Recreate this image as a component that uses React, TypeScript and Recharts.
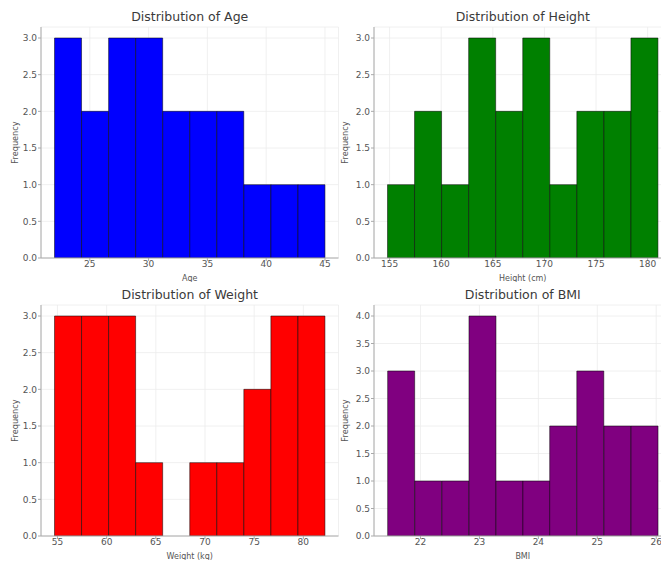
import React from 'react';
import { BarChart, Bar, XAxis, YAxis, CartesianGrid } from 'recharts';

// bin edges and counts
const ageEdges = [22, 24.3, 26.6, 28.9, 31.2, 33.5, 35.8, 38.1, 40.4, 42.7, 45];
const ageCounts = [3, 2, 3, 3, 2, 2, 2, 1, 1, 1];
const ageTicks = [25, 30, 35, 40, 45];

const heightEdges = [154.8, 157.42, 160.04, 162.66, 165.28, 167.9, 170.52, 173.14, 175.76, 178.38, 181];
const heightCounts = [1, 2, 1, 3, 2, 3, 1, 2, 2, 3];
const heightTicks = [155, 160, 165, 170, 175, 180];

const weightEdges = [54.7, 57.45, 60.2, 62.95, 65.7, 68.45, 71.2, 73.95, 76.7, 79.45, 82.2];
const weightCounts = [3, 3, 3, 1, 0, 1, 1, 2, 3, 3];
const weightTicks = [55, 60, 65, 70, 75, 80];

const bmiEdges = [21.44, 21.9, 22.36, 22.82, 23.28, 23.74, 24.19, 24.65, 25.11, 25.57, 26.03];
const bmiCounts = [3, 1, 1, 4, 1, 1, 2, 3, 2, 2];
const bmiTicks = [22, 23, 24, 25, 26];

const freqTicks3 = [0, 0.5, 1, 1.5, 2, 2.5, 3];
const freqTicks4 = [0, 0.5, 1, 1.5, 2, 2.5, 3, 3.5, 4];

const FONT = '"DejaVu Sans", sans-serif';
const PLOT_W = 297.5;
const Y_W = 41;

interface HistProps {
    title: string;
    xLabel: string;
    edges: number[];
    counts: number[];
    xTicks: number[];
    yTicks: number[];
    color: string;
    left: number;
    top: number;
    padLeft: number;
}

const YLabel = ({ viewBox }: any) => {
    const cy = viewBox.y + viewBox.height / 2;
    return (
        <text
            x={15}
            y={cy}
            transform={`rotate(-90, 15, ${cy})`}
            textAnchor="middle"
            dominantBaseline="central"
            fontSize={8.2}
            fill="#555"
            fontFamily={FONT}
        >
            Frequency
        </text>
    );
};

const makeXLabel = (text: string) => ({ viewBox }: any) => (
    <text
        x={viewBox.x + viewBox.width / 2}
        y={viewBox.y + 23}
        textAnchor="middle"
        fontSize={8}
        fill="#555"
        fontFamily={FONT}
    >
        {text}
    </text>
);

const Histogram = ({ title, xLabel, edges, counts, xTicks, yTicks, color, left, top, padLeft }: HistProps) => {
    const data = counts.map((c, i) => ({ x: (edges[i] + edges[i + 1]) / 2, count: c }));
    const lo = edges[0];
    const hi = edges[edges.length - 1];
    const pad = (hi - lo) * 0.05;
    const yMax = yTicks[yTicks.length - 1] * 1.05;
    const XLabel = makeXLabel(xLabel);

    return (
        <div style={{ position: 'absolute', left, top }}>
            <div
                style={{
                    position: 'absolute',
                    left: padLeft + Y_W,
                    width: PLOT_W,
                    top: 9,
                    textAlign: 'center',
                    fontSize: 12.5,
                    lineHeight: '15px',
                    color: '#3a3a3a',
                    fontFamily: FONT,
                    whiteSpace: 'nowrap',
                }}
            >
                {title}
            </div>
            <BarChart
                width={padLeft + Y_W + PLOT_W + 6}
                height={282}
                data={data}
                margin={{ top: 27, right: 6, bottom: 0, left: padLeft }}
                barCategoryGap={0}
                barGap={0}
            >
                <CartesianGrid stroke="#ececec" strokeWidth={0.8} />
                <XAxis
                    dataKey="x"
                    type="number"
                    domain={[lo - pad, hi + pad]}
                    ticks={xTicks}
                    allowDataOverflow
                    height={24}
                    tickSize={3}
                    tickMargin={0}
                    stroke="#aaa"
                    tick={{ fontSize: 9, fill: '#555', fontFamily: FONT }}
                    label={<XLabel />}
                />
                <YAxis
                    type="number"
                    domain={[0, yMax]}
                    ticks={yTicks}
                    allowDataOverflow
                    width={Y_W}
                    tickSize={3}
                    tickMargin={1}
                    stroke="#aaa"
                    tickFormatter={(v: number) => v.toFixed(1)}
                    tick={{ fontSize: 9, fill: '#555', fontFamily: FONT }}
                    label={<YLabel />}
                />
                <Bar
                    dataKey="count"
                    fill={color}
                    stroke="#000"
                    strokeOpacity={0.5}
                    strokeWidth={1}
                    isAnimationActive={false}
                />
            </BarChart>
        </div>
    );
};

export default function App() {
    return (
        <div
            style={{
                position: 'absolute',
                left: 0,
                top: 0,
                width: 661,
                height: 563,
                overflow: 'hidden',
                background: '#fff',
            }}
        >
            <Histogram
                title="Distribution of Age"
                xLabel="Age"
                edges={ageEdges}
                counts={ageCounts}
                xTicks={ageTicks}
                yTicks={freqTicks3}
                color="#0000ff"
                left={0}
                top={0}
                padLeft={0}
            />
            <Histogram
                title="Distribution of Height"
                xLabel="Height (cm)"
                edges={heightEdges}
                counts={heightCounts}
                xTicks={heightTicks}
                yTicks={freqTicks3}
                color="#008000"
                left={330}
                top={0}
                padLeft={3}
            />
            <Histogram
                title="Distribution of Weight"
                xLabel="Weight (kg)"
                edges={weightEdges}
                counts={weightCounts}
                xTicks={weightTicks}
                yTicks={freqTicks3}
                color="#ff0000"
                left={0}
                top={278}
                padLeft={0}
            />
            <Histogram
                title="Distribution of BMI"
                xLabel="BMI"
                edges={bmiEdges}
                counts={bmiCounts}
                xTicks={bmiTicks}
                yTicks={freqTicks4}
                color="#800080"
                left={330}
                top={278}
                padLeft={3}
            />
        </div>
    );
}
